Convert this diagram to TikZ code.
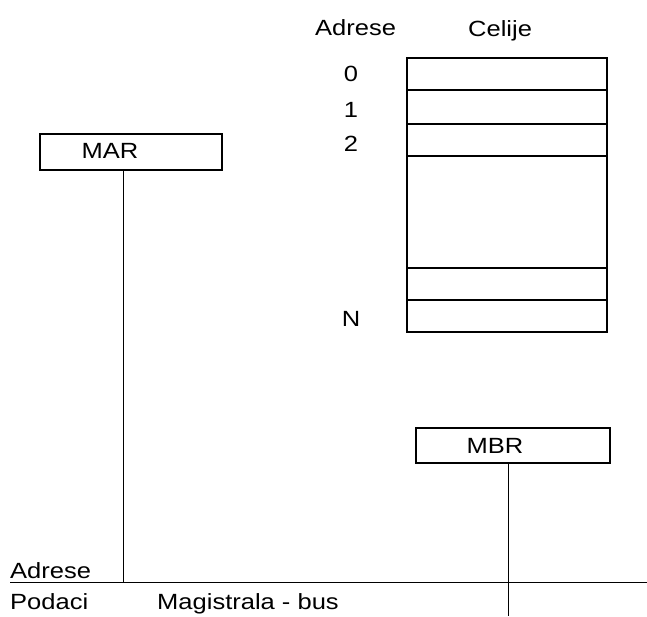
\documentclass[tikz,border=0pt]{standalone}
\usepackage{fontspec}
\setmainfont[FakeStretch=1.16]{Liberation Sans}
\begin{document}
\begin{tikzpicture}[x=1pt,y=-1pt,
  line/.style={line width=1.1pt, black},
  lbl/.style={font=\fontsize{22}{22}\selectfont, inner sep=0pt}]
\useasboundingbox (0,0) rectangle (647,616);
% memory cells
\coordinate (m0) at (407,58);
\coordinate (m1) at (607,332);
\draw[line] (m0) rectangle (m1);
\foreach \y in {90,124,156,268,300} \draw[line] (407,\y) -- (607,\y);
% column headings and addresses
\node[lbl, anchor=base west] (hadr) at (315,35) {Adrese};
\node[lbl, anchor=base west] (hcel) at (468,36) {Celije};
\node[lbl, anchor=base] (a0) at (351,81.5) {0};
\node[lbl, anchor=base] (a1) at (351,117) {1};
\node[lbl, anchor=base] (a2) at (351,151.5) {2};
\node[lbl, anchor=base] (aN) at (351,326.5) {N};
% registers
\draw[line] (40,134) rectangle (222,170);
\coordinate (marb) at (123.5,170);
\node[lbl, anchor=base] (mar) at (110,158) {MAR};
\draw[line] (416,428) rectangle (610,463);
\coordinate (mbrb) at (508.5,463);
\node[lbl, anchor=base] (mbr) at (495,453) {MBR};
% bus
\coordinate (busL) at (10,582.5);
\coordinate (busR) at (646.5,582.5);
\draw[line] (busL) -- (busR);
\coordinate (marbus) at (123.5,582.5);
\coordinate (mbrbus) at (508.5,616);
\draw[line] (marb) -- (marbus);
\draw[line] (mbrb) -- (mbrbus);
\node[lbl, anchor=base west] (badr) at (10,578) {Adrese};
\node[lbl, anchor=base west] (bpod) at (10,609) {Podaci};
\node[lbl, anchor=base west] (bus) at (157,609) {Magistrala - bus};
\end{tikzpicture}
\end{document}
